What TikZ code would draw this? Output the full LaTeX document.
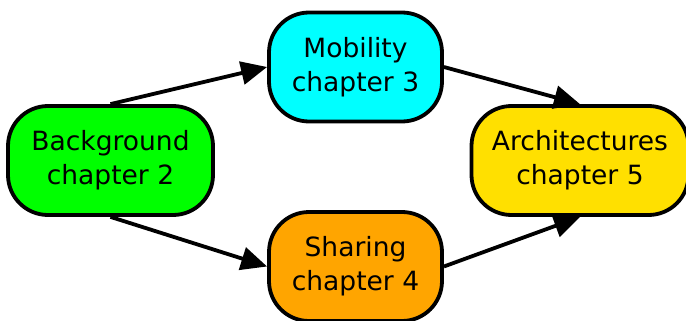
\documentclass[tikz,border=0pt]{standalone}
\usepackage{fontspec}
\setmainfont{DejaVu Sans}
\usetikzlibrary{arrows.meta}
\definecolor{bggreen}{HTML}{00FF00}
\definecolor{mobcyan}{HTML}{00FFFF}
\definecolor{shorange}{HTML}{FFA500}
\definecolor{archyellow}{HTML}{FFE000}
\begin{document}
\begin{tikzpicture}[x=1pt,y=-1pt,
  chapbox/.style={draw=black, line width=3.8pt, rounded corners=40pt,
    minimum height=109pt, inner sep=0pt, align=center,
    font=\fontsize{26.5}{34}\selectfont},
  flow/.style={line width=3.8pt, -{Triangle[length=26pt,width=23pt]}}]
\useasboundingbox (0,0) rectangle (686,321);
\node[chapbox, fill=bggreen, minimum width=205pt] (bg) at (110.5,160.5) {Background\\chapter 2};
\node[chapbox, fill=mobcyan, minimum width=173pt] (mob) at (355.5,67) {Mobility\\chapter 3};
\node[chapbox, fill=shorange, minimum width=173pt] (sh) at (355.5,266.5) {Sharing\\chapter 4};
\node[chapbox, fill=archyellow, minimum width=217pt] (arch) at (580,160.5) {Architectures\\chapter 5};
\draw[flow] (bg.north) -- (mob.west);
\draw[flow] (bg.south) -- (sh.west);
\draw[flow] (mob.east) -- (arch.north);
\draw[flow] (sh.east) -- (arch.south);
\end{tikzpicture}
\end{document}
